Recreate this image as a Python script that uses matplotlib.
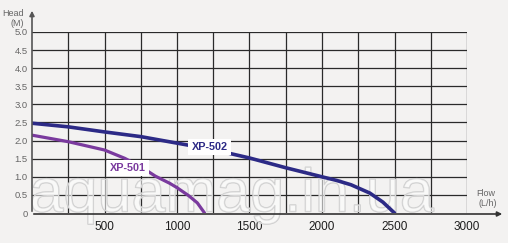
import matplotlib
matplotlib.use("Agg")
import matplotlib.pyplot as plt
import matplotlib.patheffects as pe
import numpy as np

# Data
xp502_flow = [0, 250, 500, 750, 1000, 1250, 1500, 1750, 2000, 2100, 2200, 2330, 2420, 2500]
xp502_head = [2.48, 2.38, 2.24, 2.11, 1.93, 1.75, 1.52, 1.25, 1.00, 0.90, 0.78, 0.55, 0.30, 0.0]
xp501_flow = [0, 250, 500, 640, 750, 850, 950, 1000, 1080, 1140, 1190]
xp501_head = [2.15, 1.97, 1.74, 1.51, 1.28, 1.02, 0.82, 0.70, 0.48, 0.28, 0.0]
x_ticks = [500, 1000, 1500, 2000, 2500, 3000]
x_ticklabels = ["500", "1000", "1500", "2000", "2500", "3000"]
y_ticks = [0, 0.5, 1.0, 1.5, 2.0, 2.5, 3.0, 3.5, 4.0, 4.5, 5.0]
y_ticklabels = ["0", "0.5", "1.0", "1.5", "2.0", "2.5", "3.0", "3.5", "4.0", "4.5", "5.0"]

plt.rcParams['font.family'] = ['Liberation Sans', 'DejaVu Sans']

BG = "#f3f2f1"
fig = plt.figure(figsize=(5.08, 2.43), dpi=100, facecolor=BG)
ax = fig.add_axes([32/508, 1-213/243, (467-32)/508, (213-32)/243])
ax.set_facecolor(BG)
ax.set_xlim(0, 3000)
ax.set_ylim(0, 5)

# grid
for gx in np.arange(250, 3001, 250):
    ax.axvline(gx, color="#2a2a2a", lw=0.9, zorder=1)
for gy in np.arange(0.5, 5.01, 0.5):
    ax.axhline(gy, color="#2a2a2a", lw=0.9, zorder=1)
for s in ax.spines.values():
    s.set_visible(False)

ax.set_xticks(x_ticks)
ax.set_xticklabels(x_ticklabels, fontsize=8.5, color="#1e1e1e")
ax.set_yticks(y_ticks)
ax.set_yticklabels(y_ticklabels, fontsize=6.8, color="#666666")
ax.tick_params(axis='both', length=0)
ax.tick_params(axis='x', pad=6)
ax.tick_params(axis='y', pad=3)

# axes arrows
fig.patches.append(matplotlib.patches.FancyArrowPatch(
    (32/508, 1-214/243), (32/508, 1-8/243), transform=fig.transFigure,
    arrowstyle='-|>', mutation_scale=7, color="#555555", lw=1.2))
fig.patches.append(matplotlib.patches.FancyArrowPatch(
    (31/508, 1-214/243), (505/508, 1-214/243), transform=fig.transFigure,
    arrowstyle='-|>', mutation_scale=7, color="#333333", lw=1.2))

# watermark (outlined, semi-transparent), beneath the curves
wm = ax.text(232/508, 1-196/243, "aquamag.in.ua", ha="center", va="center",
             fontsize=44, color=(1, 1, 1, 0.35), zorder=2,
             transform=fig.transFigure, clip_on=False)
wm.set_path_effects([pe.Stroke(linewidth=1.0, foreground="#cdcdcd"), pe.Normal()])

# curves
ax.plot(xp502_flow, xp502_head, color="#2c2a86", lw=2.6, solid_capstyle='round', zorder=3)
ax.plot(xp501_flow, xp501_head, color="#7a3a9e", lw=2.3, solid_capstyle='round', zorder=3)

ax.text(1224, 1.83, "XP-502", color="#2c2a86", fontsize=7.8, fontweight="bold",
        ha="center", va="center", zorder=4,
        bbox=dict(boxstyle="square,pad=0.3", fc="white", ec="none"))
ax.text(660, 1.24, "XP-501", color="#7a3a9e", fontsize=7.8, fontweight="bold",
        ha="center", va="center", zorder=4,
        bbox=dict(boxstyle="square,pad=0.3", fc="white", ec="none"))

# axis titles
fig.text(13/508, 1-13/243, "Head", fontsize=6.5, color="#666666", ha="center", va="center")
fig.text(17/508, 1-23/243, "(M)", fontsize=6.5, color="#666666", ha="center", va="center")
fig.text(486/508, 1-193/243, "Flow", fontsize=6.5, color="#666666", ha="center", va="center")
fig.text(488/508, 1-204/243, "(L/h)", fontsize=6.5, color="#666666", ha="center", va="center")

fig.savefig("out.png", dpi=100, facecolor=BG)
